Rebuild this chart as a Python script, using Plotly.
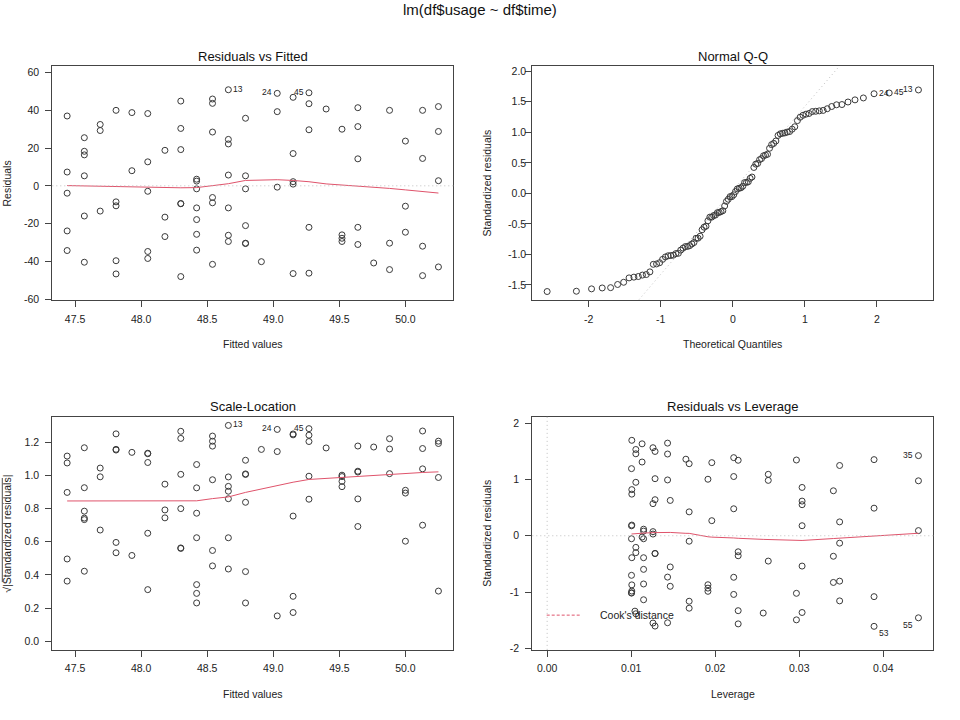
import numpy as np
import plotly.graph_objects as go
from statistics import NormalDist

# ---------------- data ----------------
main_title = "lm(df$usage ~ df$time)"
panel_titles = ["Residuals vs Fitted", "Normal Q-Q", "Scale-Location", "Residuals vs Leverage"]

# fitted value of the model for each value of df$time (0 .. 23)
fitted_levels = [47.44, 47.57, 47.69, 47.81, 47.93, 48.05, 48.18, 48.30, 48.42, 48.54, 48.66, 48.79,
                 48.91, 49.03, 49.15, 49.27, 49.40, 49.52, 49.64, 49.76, 49.88, 50.00, 50.13, 50.25]

# df$time of every observation
time = [0, 0, 0, 0, 0,
        1, 1, 1, 1, 1, 1,
        2, 2, 2,
        3, 3, 3, 3, 3,
        4, 4,
        5, 5, 5, 5, 5,
        6, 6, 6,
        7, 7, 7, 7, 7, 7,
        8, 8, 8, 8, 8, 8, 8,
        9, 9, 9, 9, 9, 9,
        10, 10, 10, 10, 10, 10, 10,
        11, 11, 11, 11, 11, 11,
        12,
        13, 13, 13,
        14, 14, 14, 14, 14,
        15, 15, 15, 15, 15,
        16,
        17, 17, 17, 17,
        18, 18, 18, 18, 18,
        19,
        20, 20, 20,
        21, 21, 21,
        22, 22, 22, 22,
        23, 23, 23, 23]

# residual of every observation (same order as time)
residuals = [37.0, 7.3, -3.9, -23.9, -34.3,
             25.5, 18.3, 16.4, 5.3, -16.0, -40.5,
             32.5, 29.3, -13.4,
             40.0, -8.5, -10.6, -39.7, -46.7,
             38.8, 8.0,
             38.3, 12.7, -2.9, -34.8, -38.5,
             18.8, -16.6, -26.9,
             44.9, 30.4, 19.2, -9.4, -9.5, -48.1,
             3.5, 2.5, -1.6, -11.7, -17.9, -25.7, -34.1,
             46.0, 43.7, 28.5, -6.2, -9.0, -41.6,
             50.9, 24.6, 22.2, 5.7, -11.7, -26.2, -29.5,
             35.8, 5.3, -1.6, -21.1, -30.4, -30.6,
             -40.2,
             49.0, 39.3, -0.7,
             46.9, 17.1, 2.2, 0.9, -46.5,
             49.3, 43.5, 29.7, -22.0, -46.3,
             40.7,
             30.0, -26.0, -27.8, -29.5,
             41.4, 31.4, 14.3, -22.0, -31.1,
             -40.9,
             40.0, -30.4, -44.4,
             23.7, -10.8, -24.6,
             40.0, 14.5, -32.0, -47.6,
             42.0, 28.8, 2.7, -43.0]

# row names of the observations that get labelled: (time, residual)
case_ids = {"13": (10, 50.9), "24": (13, 49.0), "45": (15, 49.3),
            "35": (23, 42.0), "53": (22, -47.6), "55": (23, -43.0)}

# tick labels
x1_ticks = [47.5, 48.0, 48.5, 49.0, 49.5, 50.0]
x1_text = ["47.5", "48.0", "48.5", "49.0", "49.5", "50.0"]
y1_ticks = [-60, -40, -20, 0, 20, 40, 60]
y1_text = ["-60", "-40", "-20", "0", "20", "40", "60"]
x2_ticks = [-2, -1, 0, 1, 2]
x2_text = ["-2", "-1", "0", "1", "2"]
y2_ticks = [-1.5, -1.0, -0.5, 0.0, 0.5, 1.0, 1.5, 2.0]
y2_text = ["-1.5", "-1.0", "-0.5", "0.0", "0.5", "1.0", "1.5", "2.0"]
y3_ticks = [0.0, 0.2, 0.4, 0.6, 0.8, 1.0, 1.2]
y3_text = ["0.0", "0.2", "0.4", "0.6", "0.8", "1.0", "1.2"]
x4_ticks = [0.00, 0.01, 0.02, 0.03, 0.04]
x4_text = ["0.00", "0.01", "0.02", "0.03", "0.04"]
y4_ticks = [-2, -1, 0, 1, 2]
y4_text = ["-2", "-1", "0", "1", "2"]

# ---------------- R's lm diagnostics ----------------
t = np.array(time, float)
r = np.array(residuals, float)
yhat = np.array(fitted_levels)[np.array(time)]
n = len(r)
p = 2
tc = t - t.mean()
hii = 1.0 / n + tc ** 2 / np.sum(tc ** 2)
s = np.sqrt(np.sum(r ** 2) / (n - p))
rs = r / (s * np.sqrt(1 - hii))
sqrt_abs = np.sqrt(np.abs(rs))
cook = rs ** 2 * hii / (1 - hii) / p

ids = [""] * n
for lab, (tt, rr) in case_ids.items():
    k = int(np.argmin(np.abs(t - tt) * 1000 + np.abs(r - rr)))
    ids[k] = lab


def lowess(x, y, f=2 / 3, iters=3):
    """Port of R's clowess."""
    x = np.asarray(x, float)
    y = np.asarray(y, float)
    o = np.argsort(x, kind="stable")
    x = x[o]
    y = y[o]
    nn = len(x)
    rng = x[-1] - x[0]
    delta = 0.01 * rng
    ns = max(2, min(nn, int(f * nn + 1e-7)))
    ys = np.zeros(nn)
    rw = np.ones(nn)

    def lowest(xs, nleft, nright, userw):
        h = max(xs - x[nleft], x[nright] - xs)
        h9 = 0.999 * h
        h1 = 0.001 * h
        w = np.zeros(nn)
        a = 0.0
        j = nleft
        while j < nn:
            rr = abs(x[j] - xs)
            if rr <= h9:
                if rr <= h1:
                    w[j] = 1.0
                else:
                    w[j] = (1 - (rr / h) ** 3) ** 3
                if userw:
                    w[j] *= rw[j]
                a += w[j]
            elif x[j] > xs:
                break
            j += 1
        nrt = j - 1
        if a <= 0:
            return None
        sl = slice(nleft, nrt + 1)
        w[sl] /= a
        if h > 0:
            a = np.sum(w[sl] * x[sl])
            b = xs - a
            c = np.sum(w[sl] * (x[sl] - a) ** 2)
            if np.sqrt(c) > 0.001 * rng:
                b /= c
                w[sl] *= (b * (x[sl] - a) + 1.0)
        return float(np.sum(w[sl] * y[sl]))

    it = 1
    while it <= iters + 1:
        nleft, nright, last, i = 0, ns - 1, -1, 0
        while True:
            if nright < nn - 1:
                d1 = x[i] - x[nleft]
                d2 = x[nright + 1] - x[i]
                if d1 > d2:
                    nleft += 1
                    nright += 1
                    continue
            val = lowest(x[i], nleft, nright, it > 1)
            ys[i] = val if val is not None else y[i]
            if last < i - 1:
                denom = x[i] - x[last]
                for j in range(last + 1, i):
                    alpha = (x[j] - x[last]) / denom
                    ys[j] = alpha * ys[i] + (1 - alpha) * ys[last]
            last = i
            cut = x[last] + delta
            i = last + 1
            while i < nn:
                if x[i] > cut:
                    break
                if x[i] == x[last]:
                    ys[i] = ys[last]
                    last = i
                i += 1
            i = max(last + 1, i - 1)
            if last >= nn - 1:
                break
        res = y - ys
        if it > iters:
            break
        sc = np.sum(np.abs(res)) / nn
        ar = np.abs(res)
        cmad = 6 * np.median(ar)
        if cmad < 1e-7 * sc:
            break
        c9, c1 = 0.999 * cmad, 0.001 * cmad
        rw = np.where(ar <= c1, 1.0, np.where(ar <= c9, (1 - (ar / cmad) ** 2) ** 2, 0.0))
        it += 1
    return x, ys


def pad(lo, hi):
    d = hi - lo
    return [lo - 0.04 * d, hi + 0.04 * d]


def extend(lo, hi, f):
    d = hi - lo
    return lo - f * d, hi + f * d


# Q-Q
qx_sorted = np.array([NormalDist().inv_cdf((i + 0.5) / n) for i in range(n)])
order = np.argsort(rs, kind="stable")
qx = np.empty(n)
qx[order] = qx_sorted
yq1, yq2 = np.quantile(rs, [0.25, 0.75])
xq1, xq2 = NormalDist().inv_cdf(0.25), NormalDist().inv_cdf(0.75)
qslope = (yq2 - yq1) / (xq2 - xq1)
qint = yq1 - qslope * xq1

# axis ranges as R computes them
x1r = pad(yhat.min(), yhat.max())
y1r = pad(*extend(r.min(), r.max(), 0.08))
x2r = pad(qx.min(), qx.max())
y2r = pad(rs.min(), rs.max() + 0.075 * (rs.max() - rs.min()))
x3r = x1r
y3r = pad(0, sqrt_abs.max())
x4r = pad(0, hii.max())
y4r = pad(*extend(rs.min(), rs.max(), 0.08))

# ---------------- figure ----------------
W, H = 960, 720
FONT = "Liberation Sans, Arial, Helvetica, sans-serif"
RED = "#DF536B"
PT = "#3a3a3a"
BOX = "#444444"
GRAY = "#BEBEBE"

fig = go.Figure()


def px_x(v):
    return v / W


def px_y(v):
    return 1 - v / H


# panel boxes in pixels (left, right, top, bottom)
boxes = [(52.3, 453.3, 65.7, 301.7), (532.3, 933.3, 65.7, 301.7),
         (52.3, 453.3, 419.3, 654.3), (532.3, 933.3, 419.3, 654.3)]
y_standoffs = [4, -3, 4, 4]


def axis_common(ticks, text, rng, dom, anchor, standoff):
    return dict(domain=dom, anchor=anchor, range=rng, tickmode="array", tickvals=ticks, ticktext=text,
                showline=True, mirror=True, linecolor=BOX, linewidth=1, ticks="outside", ticklen=6,
                tickwidth=1, tickcolor=BOX, showgrid=False, zeroline=False, ticklabelstandoff=standoff,
                tickfont=dict(family=FONT, size=10.5, color="#222"))


axes = [(x1_ticks, x1_text, x1r, y1_ticks, y1_text, y1r),
        (x2_ticks, x2_text, x2r, y2_ticks, y2_text, y2r),
        (x1_ticks, x1_text, x3r, y3_ticks, y3_text, y3r),
        (x4_ticks, x4_text, x4r, y4_ticks, y4_text, y4r)]

layout = {}
for k, (b, ax) in enumerate(zip(boxes, axes), start=1):
    xl, xr, yt, yb = b
    sfx = "" if k == 1 else str(k)
    layout["xaxis" + sfx] = axis_common(ax[0], ax[1], ax[2], [px_x(xl), px_x(xr)], "y" + sfx, 3)
    layout["yaxis" + sfx] = axis_common(ax[3], ax[4], ax[5], [px_y(yb), px_y(yt)], "x" + sfx,
                                        y_standoffs[k - 1])

marker = dict(symbol="circle-open", size=6, color=PT, line=dict(width=1, color=PT))


def pts(x, y, k):
    sfx = "" if k == 1 else str(k)
    fig.add_trace(go.Scatter(x=x, y=y, mode="markers", marker=marker, xaxis="x" + sfx, yaxis="y" + sfx,
                             hoverinfo="skip", showlegend=False))


def smooth(x, y, k):
    sfx = "" if k == 1 else str(k)
    lx, ly = lowess(x, y)
    fig.add_trace(go.Scatter(x=lx, y=ly, mode="lines", line=dict(color=RED, width=1),
                             xaxis="x" + sfx, yaxis="y" + sfx, hoverinfo="skip", showlegend=False))


annotations = []


def text_id(xs, ys, idx, k):
    sfx = "" if k == 1 else str(k)
    xs = np.asarray(xs)
    mid = (xs.min() + xs.max()) / 2
    for xv, yv, i in zip(xs, ys, idx):
        left = xv > mid
        annotations.append(dict(x=xv, y=yv, xref="x" + sfx, yref="y" + sfx, text=ids[i], showarrow=False,
                                xanchor="right" if left else "left", xshift=-3 if left else 3,
                                yshift=-7 if yv < 0 else 1,
                                font=dict(family=FONT, size=8.5, color="#222")))


shapes = []

# Panel 1: Residuals vs Fitted
shapes.append(dict(type="line", xref="x domain", yref="y", x0=0, x1=1, y0=0, y1=0,
                   line=dict(color=GRAY, width=1, dash="1px,3px")))
pts(yhat, r, 1)
smooth(yhat, r, 1)
show_r = np.argsort(-np.abs(r), kind="stable")[:3]
text_id(yhat[show_r], r[show_r], show_r, 1)

# Panel 2: Normal Q-Q
fig.add_trace(go.Scatter(x=x2r, y=[qint + qslope * v for v in x2r], mode="lines",
                         line=dict(color=GRAY, width=1, dash="1px,3px"), xaxis="x2", yaxis="y2",
                         hoverinfo="skip", showlegend=False))
pts(qx, rs, 2)
show_rs = np.argsort(-np.abs(rs), kind="stable")[:3]
text_id(qx[show_rs], rs[show_rs], show_rs, 2)

# Panel 3: Scale-Location
pts(yhat, sqrt_abs, 3)
smooth(yhat, sqrt_abs, 3)
text_id(yhat[show_rs], sqrt_abs[show_rs], show_rs, 3)

# Panel 4: Residuals vs Leverage
shapes.append(dict(type="line", xref="x4 domain", yref="y4", x0=0, x1=1, y0=0, y1=0,
                   line=dict(color=GRAY, width=1, dash="1px,3px")))
shapes.append(dict(type="line", xref="x4", yref="y4 domain", x0=0, x1=0, y0=0, y1=1,
                   line=dict(color=GRAY, width=1, dash="1px,3px")))
pts(hii, rs, 4)
smooth(hii, rs, 4)
show_c = np.argsort(-cook, kind="stable")[:3]
text_id(hii[show_c], rs[show_c], show_c, 4)

# legend of panel 4
shapes.append(dict(type="line", xref="paper", yref="paper", x0=px_x(546.7), x1=px_x(580), y0=px_y(619.3),
                   y1=px_y(619.3), line=dict(color=RED, width=1, dash="3px,2px")))
annotations.append(dict(x=px_x(597.5), y=px_y(619.3), xref="paper", yref="paper", text="Cook's distance",
                        showarrow=False, xanchor="left", yanchor="middle",
                        font=dict(family=FONT, size=10.5, color="#222")))

# titles
annotations.append(dict(x=0.5, y=px_y(9), xref="paper", yref="paper", text=main_title, showarrow=False,
                        xanchor="center", yanchor="middle", font=dict(family=FONT, size=15, color="#111")))
title_pos = [(252.8, 56), (732.8, 56), (252.8, 409), (732.8, 409)]
for (cx, cy), ttl in zip(title_pos, panel_titles):
    annotations.append(dict(x=px_x(cx), y=px_y(cy), xref="paper", yref="paper", text=ttl, showarrow=False,
                            xanchor="center", yanchor="middle", font=dict(family=FONT, size=13, color="#111")))

xlabels = [("Fitted values", 252.8, 346), ("Theoretical Quantiles", 732.8, 346),
           ("Fitted values", 252.8, 699.3), ("Leverage", 732.8, 699.3)]
for txt, cx, cy in xlabels:
    annotations.append(dict(x=px_x(cx), y=px_y(cy), xref="paper", yref="paper", text=txt, showarrow=False,
                            xanchor="center", yanchor="middle", font=dict(family=FONT, size=10.5, color="#222")))

ylabels = [("Residuals", 7.3, 183.7), ("Standardized residuals", 487.3, 183.7),
           ("\u221a|Standardized residuals|", 7.3, 536.8), ("Standardized residuals", 487.3, 536.8)]
for txt, cx, cy in ylabels:
    annotations.append(dict(x=px_x(cx), y=px_y(cy), xref="paper", yref="paper", text=txt, showarrow=False,
                            textangle=-90, xanchor="center", yanchor="middle",
                            font=dict(family=FONT, size=10.5, color="#222")))
# overline of the square root sign
shapes.append(dict(type="line", xref="paper", yref="paper", x0=px_x(2.3), x1=px_x(2.3), y0=px_y(481),
                   y1=px_y(586), line=dict(color="#222", width=0.8)))

fig.update_layout(width=W, height=H, margin=dict(l=0, r=0, t=0, b=0), paper_bgcolor="white",
                  plot_bgcolor="white", showlegend=False, annotations=annotations, shapes=shapes, **layout)

fig.write_html("out.html", config={"displayModeBar": False})

# remove the browser's default page margin so the figure sits at (0, 0)
with open("out.html", "r", encoding="utf-8") as fh:
    page = fh.read()
page = page.replace("<head>", "<head><style>html,body{margin:0;padding:0;overflow:hidden;}</style>", 1)
with open("out.html", "w", encoding="utf-8") as fh:
    fh.write(page)
